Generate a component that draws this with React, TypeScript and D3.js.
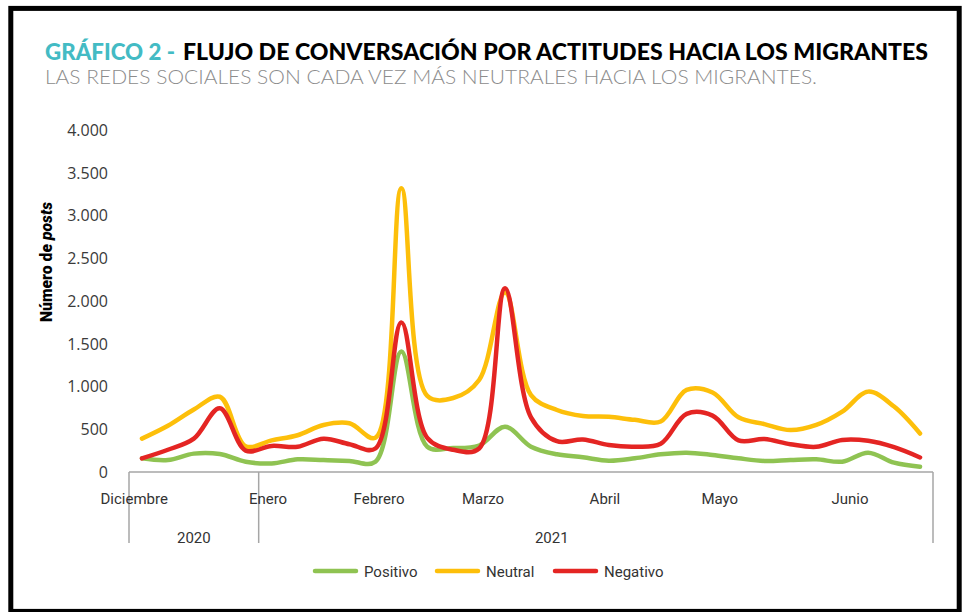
import React from "react";
import * as d3 from "d3";

const W = 965;
const H = 612;

const seriesNames = ["Positivo", "Neutral", "Negativo"];
const seriesColors = ["#8fc352", "#fdbf0a", "#e42523"];

const positivo = [160, 140, 215, 210, 120, 100, 148, 140, 130, 120, 1410, 296, 280, 310, 530, 296, 207, 172, 132, 160, 207, 226, 199, 160, 129, 140, 148, 121, 226, 109, 62];
const neutral = [390, 540, 730, 880, 300, 370, 430, 550, 570, 400, 3320, 890, 865, 1076, 2100, 900, 725, 655, 645, 610, 590, 960, 930, 640, 560, 490, 550, 705, 940, 765, 450];
const negativo = [160, 260, 390, 745, 250, 305, 295, 390, 325, 275, 1750, 400, 260, 275, 2150, 640, 360, 380, 315, 295, 330, 680, 660, 370, 385, 325, 295, 375, 365, 290, 170];

const yTicks = [0, 500, 1000, 1500, 2000, 2500, 3000, 3500, 4000];
const monthLabels = ["Diciembre", "Enero", "Febrero", "Marzo", "Abril", "Mayo", "Junio"];
const monthPos = [-0.3, 4.86, 9.14, 13.15, 17.85, 22.28, 27.3];
const yearLabels = ["2020", "2021"];
const yearPos = [2.5, 16.3];
const yearBreaks = [0, 5, 31];

const fmt = (v: number) => {
  const s = String(v);
  return s.length > 3 ? s.slice(0, s.length - 3) + "." + s.slice(s.length - 3) : s;
};

export default function App() {
  const n = positivo.length;
  const left = 129;
  const right = 933;
  const x = d3.scaleBand<number>().domain(d3.range(n)).range([left, right]).padding(0);
  const bw = x.bandwidth();
  const cx = (i: number) => (x(i) as number) + bw / 2;
  const edge = (k: number) => left + k * bw;
  const y = d3.scaleLinear().domain([0, 4000]).range([472, 130]);
  const line = d3
    .line<number>()
    .x((_, i) => cx(i))
    .y((d) => y(d))
    .curve(d3.curveCatmullRom.alpha(0.5));
  const data = [positivo, neutral, negativo];
  const drawOrder = [1, 0, 2];

  const axisColor = "#a6a6a6";
  const labelFont = "Roboto, 'Liberation Sans', sans-serif";

  const legendStart = 315;
  const legendLine = 41;
  const legendOffsets = [0, 122, 240];

  return (
    <svg width={W} height={H} style={{ position: "absolute", left: 0, top: 0, background: "#fff" }}>
      <rect x={10.8} y={8.4} width={948.4} height={603} fill="#fff" stroke="#000" strokeWidth={5} />
      <text x={45} y={59.5} fontFamily="Lato, sans-serif" fontWeight={900} fontSize={23.5} fill="#43bbc4" textLength={130} lengthAdjust="spacingAndGlyphs">
        GRÁFICO 2 -
      </text>
      <text x={183} y={59.5} fontFamily="Lato, sans-serif" fontWeight={900} fontSize={23.5} fill="#000" textLength={745} lengthAdjust="spacingAndGlyphs">
        FLUJO DE CONVERSACIÓN POR ACTITUDES HACIA LOS MIGRANTES
      </text>
      <text x={45} y={84} fontFamily="Lato, sans-serif" fontWeight={300} fontSize={20} fill="#8c8c8c" textLength={772} lengthAdjust="spacingAndGlyphs">
        LAS REDES SOCIALES SON CADA VEZ MÁS NEUTRALES HACIA LOS MIGRANTES.
      </text>

      <text transform="translate(52,262) rotate(-90)" textAnchor="middle" fontFamily={labelFont} fontWeight={900} fontSize={16} fill="#000" textLength={120} lengthAdjust="spacingAndGlyphs">
        Número de <tspan fontStyle="italic">posts</tspan>
      </text>

      {yTicks.map((t) => (
        <text key={t} x={108} y={y(t) + 5.8} textAnchor="end" fontFamily="'Open Sans', sans-serif" fontSize={16} fill="#3a3a3a">
          {fmt(t)}
        </text>
      ))}

      <line x1={left} x2={right} y1={472} y2={472} stroke={axisColor} strokeWidth={1.5} />
      {yearBreaks.map((k) => (
        <line key={k} x1={edge(k)} x2={edge(k)} y1={472} y2={543} stroke={axisColor} strokeWidth={1.5} />
      ))}
      {monthLabels.map((m, i) => (
        <text key={m} x={edge(monthPos[i] + 0.5)} y={504} textAnchor="middle" fontFamily={labelFont} fontSize={15} fill="#333">
          {m}
        </text>
      ))}
      {yearLabels.map((m, i) => (
        <text key={m} x={edge(yearPos[i])} y={543} textAnchor="middle" fontFamily={labelFont} fontSize={15} fill="#333">
          {m}
        </text>
      ))}

      {drawOrder.map((s) => (
        <path key={s} d={line(data[s]) || ""} fill="none" stroke={seriesColors[s]} strokeWidth={4.5} strokeLinecap="round" strokeLinejoin="round" />
      ))}

      {seriesNames.map((name, i) => {
        const lx = legendStart + legendOffsets[i];
        return (
          <g key={name}>
            <line x1={lx} x2={lx + legendLine} y1={571} y2={571} stroke={seriesColors[i]} strokeWidth={4.5} strokeLinecap="round" />
            <text x={lx + legendLine + 8} y={576.5} fontFamily={labelFont} fontSize={15} fill="#333">
              {name}
            </text>
          </g>
        );
      })}
    </svg>
  );
}
